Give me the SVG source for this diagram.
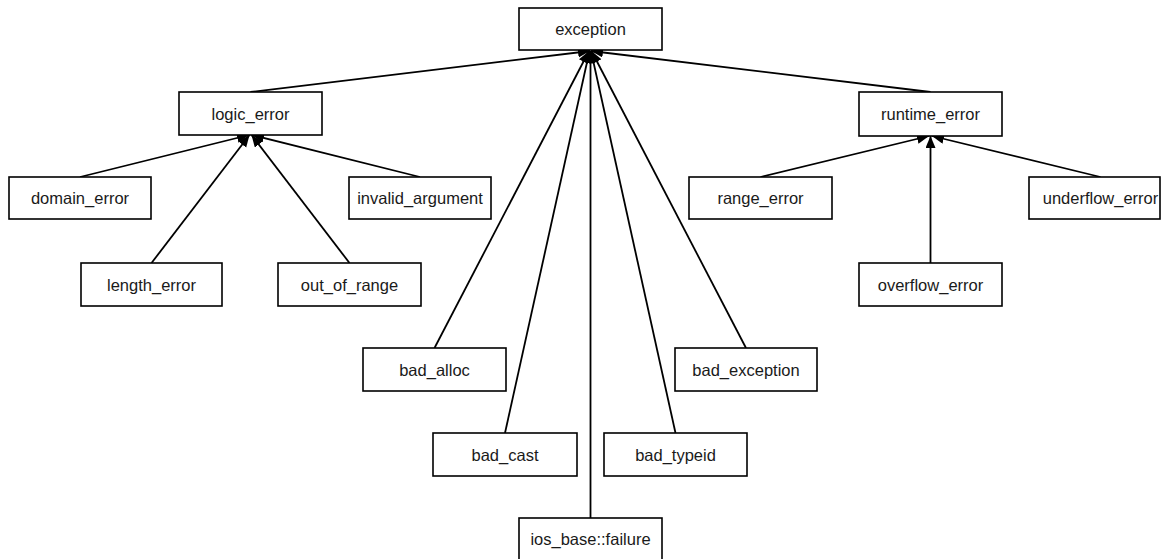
<svg xmlns="http://www.w3.org/2000/svg" width="1164" height="559" viewBox="0 0 1164 559">
<defs>
<style>
.n rect{fill:#fff;stroke:#000;stroke-width:1.6}
.n text{font-family:"Liberation Sans",Arial,sans-serif;font-size:16.5px;fill:#1a1a1a;text-anchor:middle}
.e line{stroke:#000;stroke-width:1.8;marker-end:url(#ah)}
</style>
<marker id="ah" markerUnits="userSpaceOnUse" markerWidth="13" markerHeight="11" refX="12" refY="5" orient="auto">
<path d="M0,0 L12,5 L0,10 z" fill="#000"/>
</marker>
</defs>
<rect width="1164" height="559" fill="#fff"/>
<g id="edges" class="e">
<line x1="250.5" y1="92" x2="590" y2="51"/>
<line x1="930.5" y1="92" x2="591" y2="51"/>
<line x1="434.5" y1="348" x2="589" y2="51"/>
<line x1="505" y1="433" x2="589.5" y2="51"/>
<line x1="590.5" y1="518" x2="590.5" y2="51"/>
<line x1="675.5" y1="433" x2="591" y2="51"/>
<line x1="746" y1="348" x2="591.5" y2="51"/>
<line x1="80" y1="177" x2="249" y2="135"/>
<line x1="151.5" y1="263" x2="249.5" y2="135"/>
<line x1="349.5" y1="263" x2="251.5" y2="135"/>
<line x1="420" y1="177" x2="252" y2="135"/>
<line x1="760.5" y1="177" x2="929" y2="136"/>
<line x1="930.5" y1="263" x2="930.5" y2="136"/>
<line x1="1100.5" y1="177" x2="932" y2="136"/>
</g>
<g id="exception" class="n"><rect x="519" y="8" width="143" height="42"/><text x="590.5" y="35">exception</text></g>
<g id="logic_error" class="n"><rect x="179" y="92" width="143" height="43"/><text x="250.5" y="119.5">logic_error</text></g>
<g id="runtime_error" class="n"><rect x="859" y="92" width="143" height="44"/><text x="930.5" y="120">runtime_error</text></g>
<g id="domain_error" class="n"><rect x="9" y="177" width="142" height="42"/><text x="80" y="204">domain_error</text></g>
<g id="invalid_argument" class="n"><rect x="349" y="177" width="142" height="42"/><text x="420" y="204">invalid_argument</text></g>
<g id="range_error" class="n"><rect x="689" y="177" width="143" height="42"/><text x="760.5" y="204">range_error</text></g>
<g id="underflow_error" class="n"><rect x="1029" y="177" width="131" height="42"/><text x="1100.5" y="204">underflow_error</text></g>
<g id="length_error" class="n"><rect x="81" y="263" width="141" height="43"/><text x="151.5" y="290.5">length_error</text></g>
<g id="out_of_range" class="n"><rect x="278" y="263" width="143" height="43"/><text x="349.5" y="290.5">out_of_range</text></g>
<g id="overflow_error" class="n"><rect x="859" y="263" width="143" height="43"/><text x="930.5" y="290.5">overflow_error</text></g>
<g id="bad_alloc" class="n"><rect x="363" y="348" width="143" height="43"/><text x="434.5" y="375.5">bad_alloc</text></g>
<g id="bad_exception" class="n"><rect x="675" y="348" width="142" height="43"/><text x="746" y="375.5">bad_exception</text></g>
<g id="bad_cast" class="n"><rect x="433" y="433" width="144" height="43"/><text x="505" y="460.5">bad_cast</text></g>
<g id="bad_typeid" class="n"><rect x="604" y="433" width="143" height="43"/><text x="675.5" y="460.5">bad_typeid</text></g>
<g id="ios_base_failure" class="n"><rect x="519" y="518" width="143" height="42"/><text x="590.5" y="545">ios_base::failure</text></g>
</svg>
